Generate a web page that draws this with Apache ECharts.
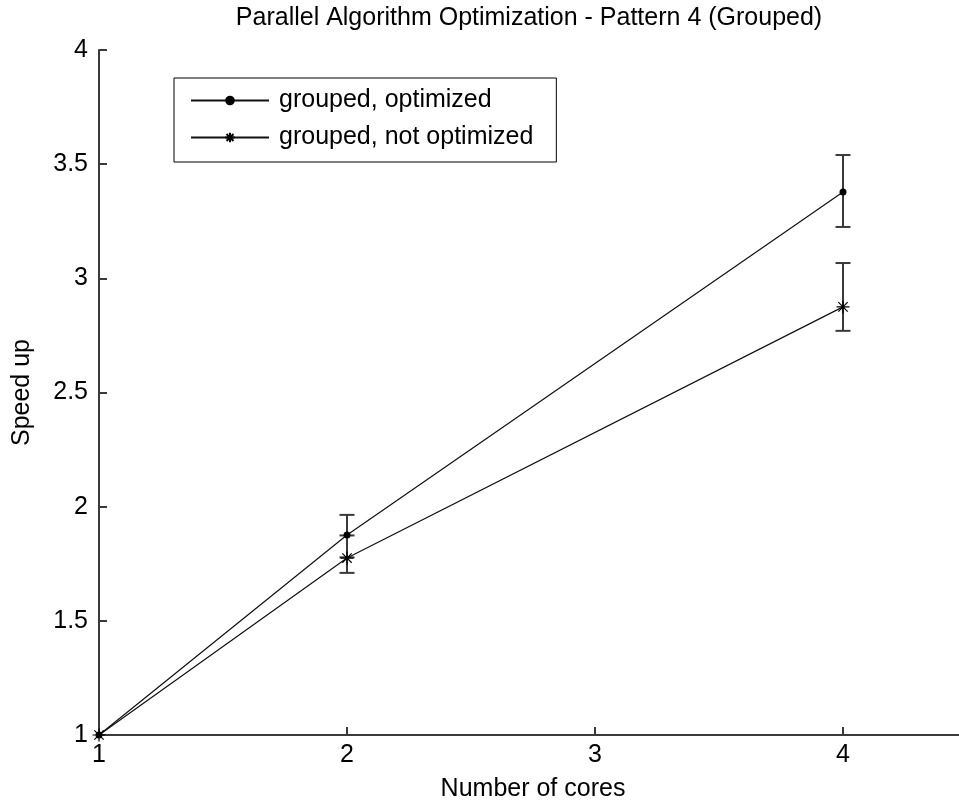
<!DOCTYPE html>
<html>
<head>
<meta charset="utf-8">
<script src="https://cdn.jsdelivr.net/npm/echarts@6/dist/echarts.min.js"></script>
<style>
  html, body { margin: 0; padding: 0; background: #fff; }
  #myChart { width: 959px; height: 808px; }
</style>
</head>
<body>
<div id="myChart"></div>
<script>
// data
const cores = [1, 2, 4]
const optimized = [1, 1.876, 3.378]
const optimizedLow = [1, 1.778, 3.225]
const optimizedHigh = [1, 1.964, 3.54]
const notOptimized = [1, 1.775, 2.875]
const notOptimizedLow = [1, 1.71, 2.77]
const notOptimizedHigh = [1, 1.874, 3.067]
const yTicks = [1, 1.5, 2, 2.5, 3, 3.5, 4]

const font = 'Liberation Sans, Arial, sans-serif'
const star = 'path://M0,-5L0,5M-5,0L5,0M-3.6,-3.6L3.6,3.6M-3.6,3.6L3.6,-3.6'

function toPairs(xs, ys) {
  return xs.map((x, i) => [x, ys[i]])
}
function toBars(xs, lo, hi) {
  return xs.map((x, i) => [x, lo[i], hi[i]])
}

function renderErrorBar(params, api) {
  const x = api.value(0)
  const lo = api.coord([x, api.value(1)])
  const hi = api.coord([x, api.value(2)])
  if (hi[1] === lo[1]) return null
  const w = 7.5
  const style = { stroke: '#3a3a3a', lineWidth: 2 }
  return {
    type: 'group',
    children: [
      { type: 'line', shape: { x1: lo[0], y1: lo[1], x2: hi[0], y2: hi[1] }, style: style },
      { type: 'line', shape: { x1: lo[0] - w, y1: lo[1], x2: lo[0] + w, y2: lo[1] }, style: style },
      { type: 'line', shape: { x1: hi[0] - w, y1: hi[1], x2: hi[0] + w, y2: hi[1] }, style: style }
    ]
  }
}

const myChart = echarts.init(document.getElementById('myChart'))
const option = {
  animation: false,
  backgroundColor: '#fff',
  title: {
    text: 'Parallel Algorithm Optimization - Pattern 4 (Grouped)',
    left: 529,
    textAlign: 'center',
    top: 6,
    padding: 0,
    textStyle: { fontFamily: font, fontSize: 25, fontWeight: 'normal', color: '#000' }
  },
  legend: {
    left: 174,
    top: 78,
    orient: 'vertical',
    padding: [10, 23, 12, 16],
    itemGap: 12,
    itemWidth: 78,
    itemHeight: 12,
    borderColor: '#000',
    borderWidth: 1,
    textStyle: { fontFamily: font, fontSize: 25, color: '#000', padding: [0, 0, 0, 5] },
    data: ['grouped, optimized', 'grouped, not optimized']
  },
  grid: {
    left: 99,
    right: -8,
    top: 50,
    bottom: 73,
    containLabel: false,
    outerBoundsMode: 'none'
  },
  xAxis: {
    type: 'value',
    min: 1,
    max: 4.5,
    interval: 1,
    name: 'Number of cores',
    nameLocation: 'middle',
    nameGap: 42,
    nameTextStyle: { fontFamily: font, fontSize: 25, color: '#000' },
    splitLine: { show: false },
    axisLine: { lineStyle: { color: '#3a3a3a', width: 2 } },
    axisTick: { inside: true, length: 8, lineStyle: { color: '#3a3a3a', width: 2 } },
    axisLabel: {
      margin: 8,
      fontFamily: font,
      fontSize: 25,
      color: '#000',
      formatter: v => (v > 4 ? '' : String(v))
    }
  },
  yAxis: {
    type: 'value',
    min: 1,
    max: 4,
    interval: 0.5,
    name: 'Speed up',
    nameLocation: 'middle',
    nameGap: 64,
    nameRotate: 90,
    nameTextStyle: { fontFamily: font, fontSize: 25, color: '#000' },
    splitLine: { show: false },
    axisLine: { show: true, lineStyle: { color: '#3a3a3a', width: 2 } },
    axisTick: { show: true, inside: true, length: 8, lineStyle: { color: '#3a3a3a', width: 2 } },
    axisLabel: {
      margin: 11,
      fontFamily: font,
      fontSize: 25,
      color: '#000',
      formatter: v => (yTicks.indexOf(v) >= 0 ? String(v) : '')
    }
  },
  series: [
    {
      type: 'custom',
      renderItem: renderErrorBar,
      data: toBars(cores, optimizedLow, optimizedHigh),
      z: 1
    },
    {
      type: 'custom',
      renderItem: renderErrorBar,
      data: toBars(cores, notOptimizedLow, notOptimizedHigh),
      z: 1
    },
    {
      name: 'grouped, optimized',
      type: 'line',
      data: toPairs(cores, optimized),
      symbol: 'circle',
      symbolSize: 7,
      lineStyle: { color: '#111', width: 1.2 },
      itemStyle: { color: '#000' },
      z: 3
    },
    {
      name: 'grouped, not optimized',
      type: 'line',
      data: toPairs(cores, notOptimized),
      symbol: star,
      symbolSize: 13,
      lineStyle: { color: '#111', width: 1.2 },
      itemStyle: { color: '#000', borderColor: '#000', borderWidth: 1.2 },
      z: 3
    }
  ]
}
myChart.setOption(option)
window.addEventListener('resize', function() {
  myChart.resize()
})
</script>
</body>
</html>
